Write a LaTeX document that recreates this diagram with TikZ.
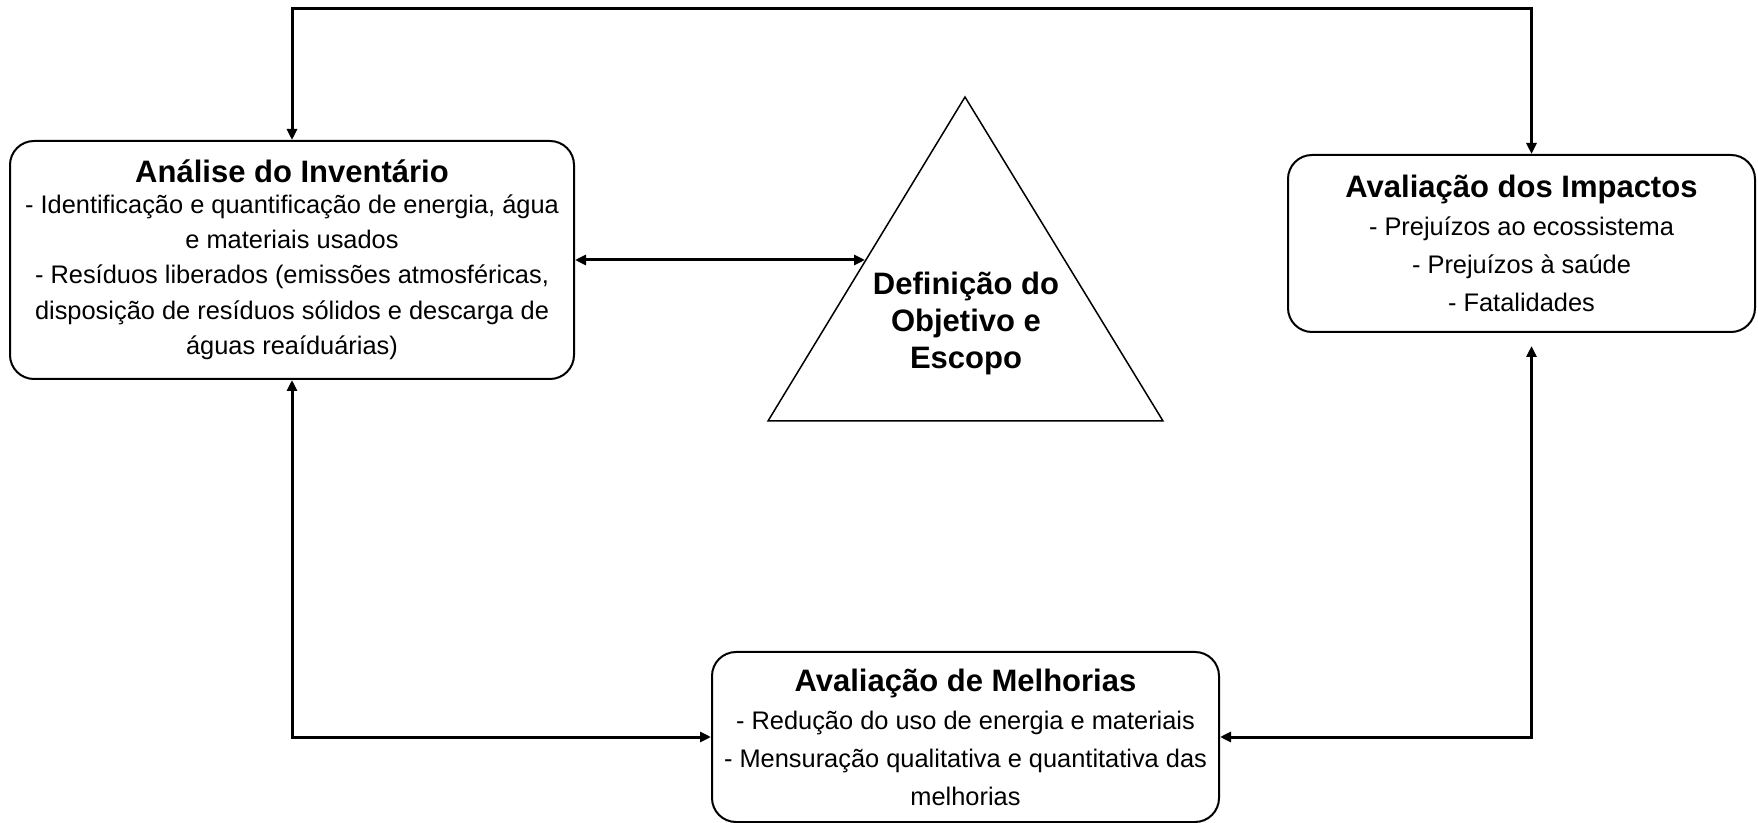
\documentclass[tikz,border=0pt]{standalone}
\usepackage{fontspec}
\setmainfont{Liberation Sans}
\usetikzlibrary{arrows.meta}

\tikzset{
	etapa/.style={draw, line width=1pt, rounded corners=12pt, align=center, inner sep=0pt, font=\fontsize{12.7}{#1}\selectfont},
	seta/.style={<->, >={Triangle[length=5.5pt,width=5pt]}, line width=1.5pt},
}
\newcommand{\titulo}[1]{{\fontsize{15.5}{17}\selectfont\bfseries #1}}

\begin{document}
\begin{tikzpicture}[x=0.5pt,y=-0.5pt]
		\useasboundingbox (0,0) rectangle (1758,823);
		
		% Set up the boxes (etapas)
		\node[etapa=17.7, minimum width=282pt, minimum height=119pt] (inv) at (292,260)
			{\titulo{Análise do Inventário}\\[-2.5pt]
			- Identificação e quantificação de energia, água\\
			e materiais usados\\
			- Resíduos liberados (emissões atmosféricas,\\
			disposição de resíduos sólidos e descarga de\\
			águas reaíduárias)};
		\node[etapa=19, minimum width=233.5pt, minimum height=88.5pt] (imp) at (1521.5,243.5)
			{\titulo{Avaliação dos Impactos}\\
			- Prejuízos ao ecossistema\\
			- Prejuízos à saúde\\
			- Fatalidades};
		\node[etapa=19, minimum width=253.5pt, minimum height=85pt] (mel) at (965.5,737)
			{\titulo{Avaliação de Melhorias}\\
			- Redução do uso de energia e materiais\\
			- Mensuração qualitativa e quantitativa das\\
			melhorias};
		
		% Set up the triangle
		\coordinate (topo) at (965,97);
		\coordinate (baseE) at (768,421);
		\coordinate (baseD) at (1163,421);
		\coordinate (lado) at (865,260);
		\coordinate (cima) at (1100,9);
		\draw[line width=0.75pt] (topo) -- (baseE) -- (baseD) -- cycle;
		\node[align=center, font=\fontsize{15.5}{18.5}\selectfont\bfseries] (def) at (966,323)
			{Definição do\\Objetivo e\\Escopo};
		
		% Add the arrows
		\draw[seta] (inv.east) -- (lado);
		\draw[seta] (inv.north) |- (cima) -| ([xshift=5pt]imp.north);
		\draw[seta] (inv.south) |- (mel.west);
		\draw[seta] (mel.east) -| ([xshift=5pt,yshift=-6.5pt]imp.south);
\end{tikzpicture}
\end{document}
